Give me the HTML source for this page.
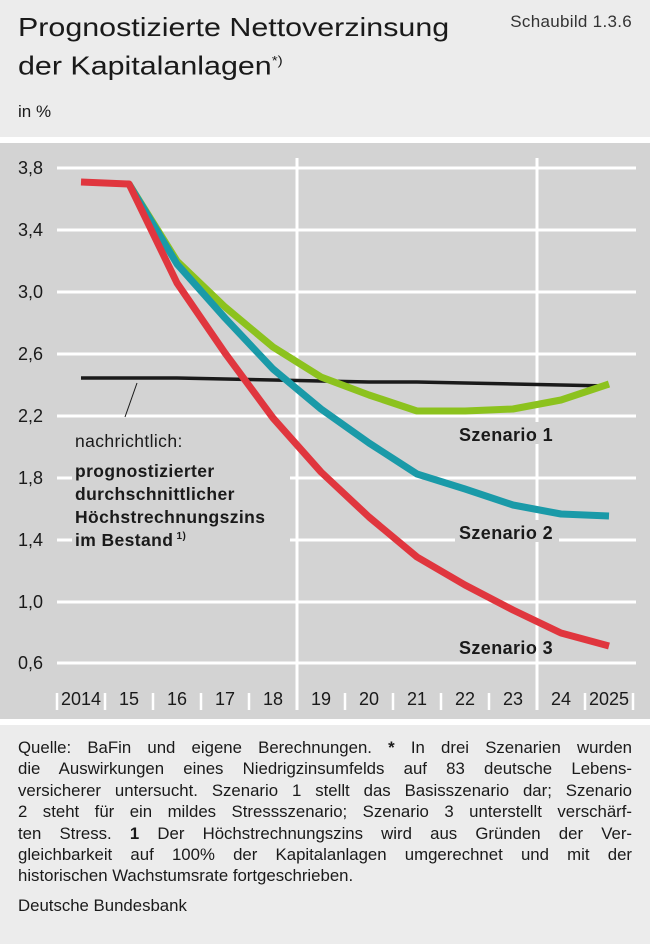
<!DOCTYPE html>
<html><head><meta charset="utf-8"><style>
body{margin:0;width:650px;height:944px;background:#ececec;font-family:"Liberation Sans",sans-serif;color:#1a1a1a;position:relative;overflow:hidden}
.t{position:absolute;left:18px;top:10px;font-size:26px;line-height:34px;transform:scaleX(1.17);transform-origin:0 0;white-space:nowrap}
.s{position:absolute;right:18px;top:12px;font-size:17px;color:#333;letter-spacing:0.3px}
.u{position:absolute;left:18px;top:102px;font-size:17px}
.band{position:absolute;left:0;width:650px;height:6px;background:#fff}
.foot{position:absolute;left:18px;top:737px;width:614px;font-size:16.8px;line-height:21.4px}
.foot div.j{text-align:justify;text-align-last:justify;white-space:nowrap}
</style></head><body>
<div class="t">Prognostizierte Nettoverzinsung<br>der Kapitalanlagen<sup style="font-size:13px">*)</sup></div>
<div class="s">Schaubild 1.3.6</div>
<div class="u">in %</div>
<div class="band" style="top:137px"></div>
<svg style="position:absolute;left:0;top:143px" width="650" height="576" viewBox="0 143 650 576">
<rect x="0" y="143" width="650" height="576" fill="#d3d3d3"/>
<g stroke="#fff" stroke-width="3">
<line x1="57" x2="636" y1="168" y2="168"/><line x1="57" x2="636" y1="230" y2="230"/><line x1="57" x2="636" y1="292" y2="292"/><line x1="57" x2="636" y1="354" y2="354"/><line x1="57" x2="636" y1="416" y2="416"/><line x1="57" x2="636" y1="478" y2="478"/><line x1="57" x2="636" y1="540" y2="540"/><line x1="57" x2="636" y1="602" y2="602"/><line x1="57" x2="636" y1="663" y2="663"/>
<line x1="297" x2="297" y1="158" y2="710"/><line x1="537" x2="537" y1="158" y2="710"/>
<g stroke-width="2.5"><line x1="57" x2="57" y1="693" y2="710"/><line x1="105" x2="105" y1="693" y2="710"/><line x1="153" x2="153" y1="693" y2="710"/><line x1="201" x2="201" y1="693" y2="710"/><line x1="249" x2="249" y1="693" y2="710"/><line x1="345" x2="345" y1="693" y2="710"/><line x1="393" x2="393" y1="693" y2="710"/><line x1="441" x2="441" y1="693" y2="710"/><line x1="489" x2="489" y1="693" y2="710"/><line x1="585" x2="585" y1="693" y2="710"/><line x1="633" x2="633" y1="693" y2="710"/></g>
</g>
<g font-size="18" fill="#1a1a1a">
<text x="18" y="174">3,8</text><text x="18" y="236">3,4</text><text x="18" y="298">3,0</text><text x="18" y="360">2,6</text><text x="18" y="422">2,2</text><text x="18" y="484">1,8</text><text x="18" y="546">1,4</text><text x="18" y="608">1,0</text><text x="18" y="669">0,6</text>
<g text-anchor="middle"><text x="81" y="705">2014</text><text x="129" y="705">15</text><text x="177" y="705">16</text><text x="225" y="705">17</text><text x="273" y="705">18</text><text x="321" y="705">19</text><text x="369" y="705">20</text><text x="417" y="705">21</text><text x="465" y="705">22</text><text x="513" y="705">23</text><text x="561" y="705">24</text><text x="609" y="705">2025</text></g>
</g>
<g fill="none" stroke-linejoin="round">
<polyline stroke="#1a1a1a" stroke-width="3.5" points="81,378 129,378 177,378 225,379 273,380 321,381 369,382 417,382 465,383 513,384 561,385 609,386"/>
<polyline stroke="#8cc21e" stroke-width="7" points="129,184 177,261 225,307 273,347 321,377 369,395 417,411 465,411 513,409 561,400 609,384"/>
<polyline stroke="#1a9aa8" stroke-width="7" points="129,184 177,264 225,318 273,369 321,409 369,443 417,474 465,489 513,505 561,514 609,516"/>
<polyline stroke="#e0363e" stroke-width="7" points="81,182 129,184 177,283 225,353 273,418 321,472 369,517 417,557 465,585 513,610 561,633 609,646"/>
</g>
<line x1="137" y1="383" x2="125" y2="417" stroke="#1a1a1a" stroke-width="1"/>
<rect x="72" y="450" width="218" height="92" fill="#d3d3d3"/>
<g font-size="17.5" fill="#1a1a1a" letter-spacing="0.4">
<text x="75" y="447">nachrichtlich:</text>
<g font-weight="bold"><text x="75" y="477">prognostizierter</text><text x="75" y="500">durchschnittlicher</text><text x="75" y="523">Höchstrechnungszins</text><text x="75" y="546">im Bestand<tspan font-size="10" dy="-7"> 1)</tspan></text></g>
</g>
<g font-size="18" font-weight="bold" fill="#1a1a1a" letter-spacing="0.4">
<rect x="455" y="422" width="104" height="22" fill="#d3d3d3"/><text x="459" y="441">Szenario 1</text>
<rect x="455" y="520" width="104" height="22" fill="#d3d3d3"/><text x="459" y="539">Szenario 2</text>
<text x="459" y="654">Szenario 3</text>
</g>
</svg>
<div class="band" style="top:719px"></div>
<div class="foot">
<div class="j">Quelle: BaFin und eigene Berechnungen. <b>*</b> In drei Szenarien wurden</div>
<div class="j">die Auswirkungen eines Niedrigzinsumfelds auf 83 deutsche Lebens-</div>
<div class="j">versicherer untersucht. Szenario 1 stellt das Basisszenario dar; Szenario</div>
<div class="j">2 steht für ein mildes Stressszenario; Szenario 3 unterstellt verschärf-</div>
<div class="j">ten Stress. <b>1</b> Der Höchstrechnungszins wird aus Gründen der Ver-</div>
<div class="j">gleichbarkeit auf 100% der Kapitalanlagen umgerechnet und mit der</div>
<div style="white-space:nowrap">historischen Wachstumsrate fortgeschrieben.</div>
<div style="margin-top:8px">Deutsche Bundesbank</div></div>
</body></html>
